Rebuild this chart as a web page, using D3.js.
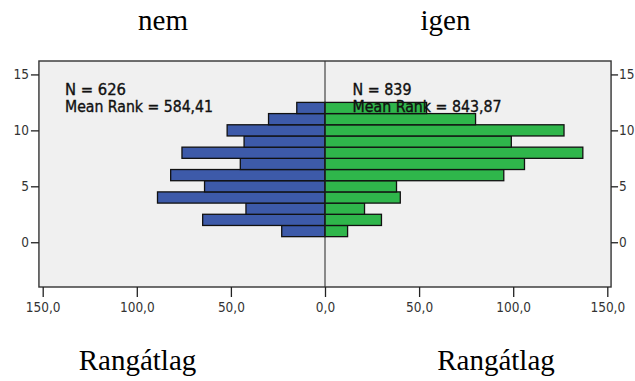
<!DOCTYPE html>
<html>
<head>
<meta charset="utf-8">
<script src="https://cdn.jsdelivr.net/npm/d3@7"></script>
<style>
  html, body { margin: 0; padding: 0; background: #ffffff; }
  svg { display: block; }
</style>
</head>
<body>
<svg id="chart" width="635" height="381"></svg>
<script>
// Rank bins (y axis) and frequency counts for the two groups
const bins = [1, 2, 3, 4, 5, 6, 7, 8, 9, 10, 11, 12];
const nemCounts  = [23, 65, 42, 89, 64, 82, 45, 76, 43, 52, 30, 15];
const igenCounts = [12, 30, 21, 40, 38, 95, 106, 137, 99, 127, 80, 54];
const groupLabels = ["nem", "igen"];
const groupStats = [
  ["N = 626", "Mean Rank = 584,41"],
  ["N = 839", "Mean Rank = 843,87"]
];
const xTicks = [0, 50, 100, 150];
const yTicks = [0, 5, 10, 15];
const axisTitle = "Rangátlag";

const svg = d3.select("#chart");
const numFont = "'DejaVu Sans Condensed', 'DejaVu Sans', sans-serif";
const serif = "'Liberation Serif', 'Times New Roman', serif";

const center = 325;
const xLeft  = d3.scaleLinear().domain([0, 150]).range([center, 42.7]);
const xRight = d3.scaleLinear().domain([0, 150]).range([center, 607.3]);
const y = d3.scaleLinear().domain([-4, 16.2]).range([287, 61]);

const frameL = xLeft(152), frameR = xRight(152);
const plotTop = y.range()[1], plotBottom = y.range()[0];

// Plot background
svg.append("rect")
  .attr("x", frameL).attr("y", plotTop)
  .attr("width", frameR - frameL).attr("height", plotBottom - plotTop)
  .attr("fill", "#f0f0f0");

const fmt = d => d3.format(".1f")(d).replace(".", ",");

// Bars: left pyramid (nem)
svg.append("g").selectAll("rect")
  .data(bins.map((b, i) => ({ b, v: nemCounts[i] })))
  .join("rect")
  .attr("x", d => xLeft(d.v))
  .attr("y", d => y(d.b + 0.5))
  .attr("width", d => xLeft(0) - xLeft(d.v))
  .attr("height", d => y(d.b - 0.5) - y(d.b + 0.5))
  .attr("fill", "#3d5aa9")
  .attr("stroke", "#111")
  .attr("stroke-width", 1.3);

// Bars: right pyramid (igen)
svg.append("g").selectAll("rect")
  .data(bins.map((b, i) => ({ b, v: igenCounts[i] })))
  .join("rect")
  .attr("x", xRight(0))
  .attr("y", d => y(d.b + 0.5))
  .attr("width", d => xRight(d.v) - xRight(0))
  .attr("height", d => y(d.b - 0.5) - y(d.b + 0.5))
  .attr("fill", "#2fb64b")
  .attr("stroke", "#111")
  .attr("stroke-width", 1.3);

// Center divider
svg.append("line")
  .attr("x1", center).attr("x2", center)
  .attr("y1", plotTop).attr("y2", plotBottom)
  .attr("stroke", "#222").attr("stroke-width", 1);

// Frame
svg.append("rect")
  .attr("x", frameL).attr("y", plotTop)
  .attr("width", frameR - frameL).attr("height", plotBottom - plotTop)
  .attr("fill", "none")
  .attr("stroke", "#333").attr("stroke-width", 1.4);

// Bottom axes (mirrored)
function styleAxis(g) {
  g.select(".domain").remove();
  g.selectAll(".tick line").attr("stroke", "#222").attr("stroke-width", 1.3);
  g.selectAll(".tick text")
    .attr("font-family", numFont).attr("font-size", 13.5)
    .attr("fill", "#333");
}
svg.append("g")
  .attr("transform", `translate(0,${plotBottom})`)
  .call(d3.axisBottom(xLeft).tickValues(xTicks).tickFormat(fmt).tickSize(10).tickPadding(5))
  .call(styleAxis);
svg.append("g")
  .attr("transform", `translate(0,${plotBottom})`)
  .call(d3.axisBottom(xRight).tickValues(xTicks.filter(d => d > 0)).tickFormat(fmt).tickSize(10).tickPadding(5))
  .call(styleAxis);

// Left and right y axes
svg.append("g")
  .attr("transform", `translate(${frameL},0)`)
  .call(d3.axisLeft(y).tickValues(yTicks).tickSize(8).tickPadding(2))
  .call(styleAxis);
svg.append("g")
  .attr("transform", `translate(${frameR},0)`)
  .call(d3.axisRight(y).tickValues(yTicks).tickSize(7).tickPadding(1))
  .call(styleAxis);

// Group statistics
const statX = [65, 352.5];
const statW = [[61, 148], [59, 149]];
groupStats.forEach((lines, gi) => {
  lines.forEach((t, li) => {
    svg.append("text")
      .attr("x", statX[gi]).attr("y", 94.5 + li * 17.2)
      .attr("font-family", numFont).attr("font-size", 15.5)
      .attr("textLength", statW[gi][li])
      .attr("lengthAdjust", "spacingAndGlyphs")
      .attr("fill", "#111")
      .attr("stroke", "#111").attr("stroke-width", 0.35)
      .text(t);
  });
});

// Group titles above
const titleX = [163, 445.5];
groupLabels.forEach((t, i) => {
  svg.append("text")
    .attr("x", titleX[i]).attr("y", 30)
    .attr("text-anchor", "middle")
    .attr("font-family", serif).attr("font-size", 29)
    .attr("fill", "#000")
    .text(t);
});

// Axis titles below
[137.5, 496].forEach(cx => {
  svg.append("text")
    .attr("x", cx).attr("y", 370)
    .attr("text-anchor", "middle")
    .attr("font-family", serif).attr("font-size", 29)
    .attr("fill", "#000")
    .text(axisTitle);
});
</script>
</body>
</html>
